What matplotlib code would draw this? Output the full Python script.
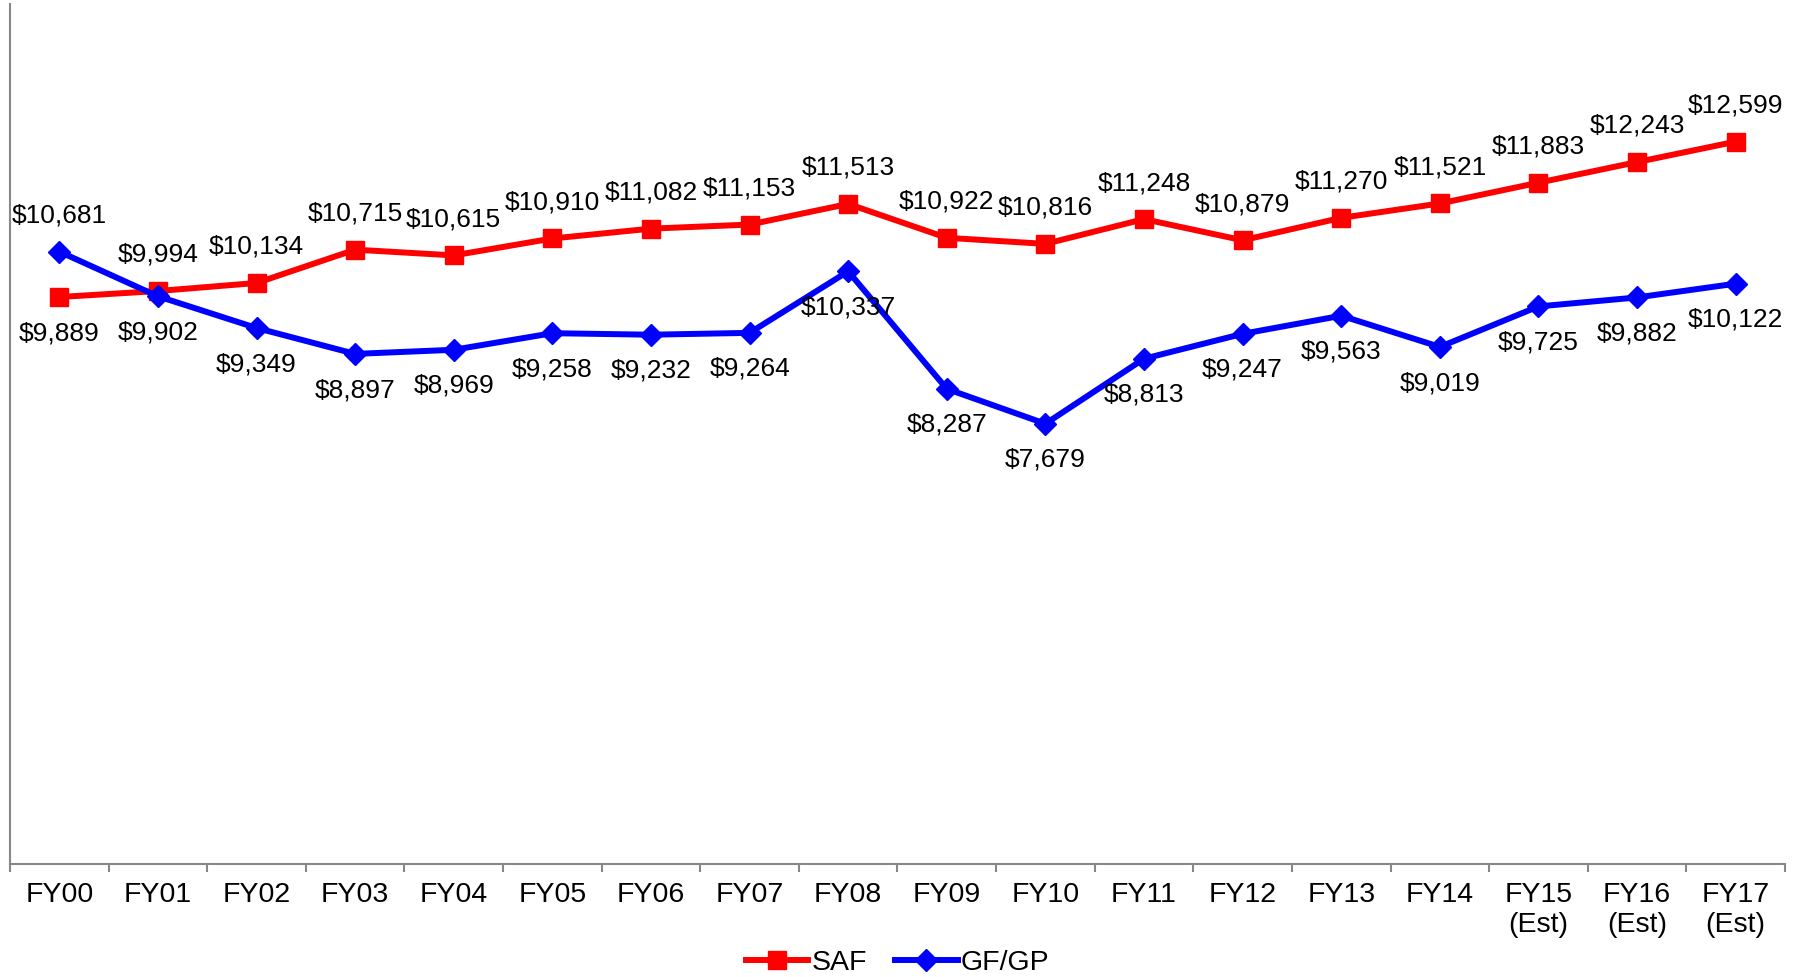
import numpy as np
import matplotlib.pyplot as plt
from matplotlib.ticker import FixedLocator

plt.rcParams['font.family'] = ['Liberation Sans', 'DejaVu Sans']

years = ['FY00', 'FY01', 'FY02', 'FY03', 'FY04', 'FY05', 'FY06', 'FY07', 'FY08',
         'FY09', 'FY10', 'FY11', 'FY12', 'FY13', 'FY14',
         'FY15\n(Est)', 'FY16\n(Est)', 'FY17\n(Est)']
saf = [9889, 9994, 10134, 10715, 10615, 10910, 11082, 11153, 11513,
       10922, 10816, 11248, 10879, 11270, 11521, 11883, 12243, 12599]
gfgp = [10681, 9902, 9349, 8897, 8969, 9258, 9232, 9264, 10337,
        8287, 7679, 8813, 9247, 9563, 9019, 9725, 9882, 10122]

x = np.arange(len(years))

fig = plt.figure(figsize=(17.97, 9.77), dpi=100)
ax = fig.add_axes([10 / 1797, 1 - 864 / 977, 1775 / 1797, 860 / 977])

ax.plot(x, saf, color='#ff0000', lw=4.3, marker='s', ms=13, label='SAF')
ax.plot(x, gfgp, color='#0000ff', lw=4.3, marker='D', ms=11, label='GF/GP')

# higher series gets its label above the point, lower one below
for i in x:
    for vals, other in ((saf, gfgp), (gfgp, saf)):
        v = vals[i]
        up = v >= other[i]
        ax.annotate('${:,}'.format(v), (i, v), xytext=(0, 26 if up else -26),
                    textcoords='offset points', ha='center', va='center',
                    fontsize=19, color='black')

ax.set_xlim(-0.5, len(years) - 0.5)
ax.set_ylim(0, 15000)
ax.set_yticks([])
ax.set_xticks(x)
ax.set_xticklabels(years, fontsize=20.5, linespacing=1.2)
ax.tick_params(axis='x', which='major', length=0, pad=13)
ax.xaxis.set_minor_locator(FixedLocator(np.arange(-0.5, len(years), 1.0)))
ax.tick_params(axis='x', which='minor', length=6, width=1.5, color='#888888', direction='out')

for side in ('top', 'right'):
    ax.spines[side].set_visible(False)
for side in ('left', 'bottom'):
    ax.spines[side].set_color('#888888')
    ax.spines[side].set_linewidth(1.5)

ax.legend(loc='center', bbox_to_anchor=(0.5, -0.115), ncol=2, frameon=False,
          fontsize=20.5, handlelength=2.2, handletextpad=0.1, columnspacing=1.0)

fig.savefig('out.png', dpi=100)
